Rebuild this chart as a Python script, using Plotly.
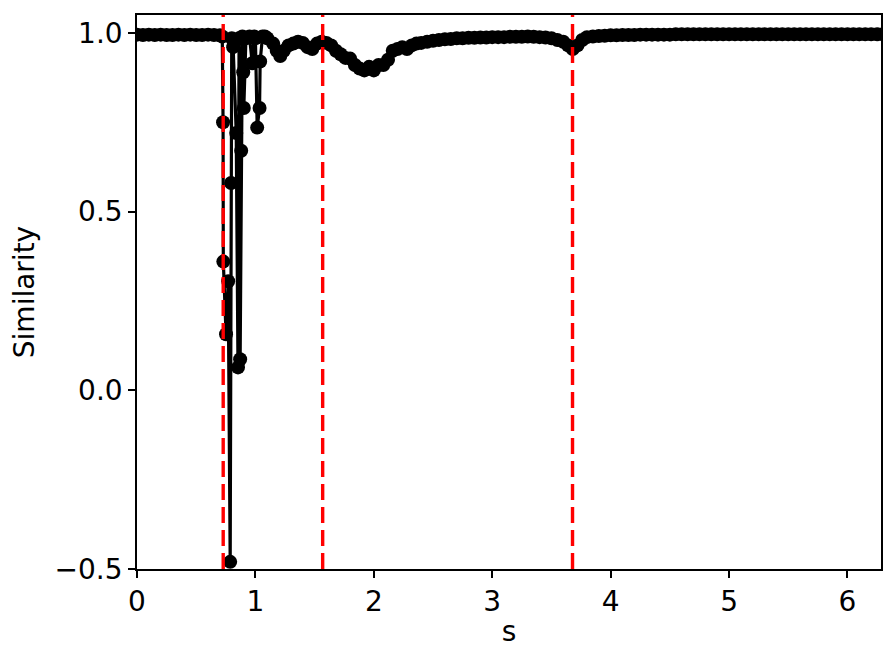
import plotly.graph_objects as go

# ---- data ----
s_left = [0.00, 0.05, 0.10, 0.15, 0.20, 0.25, 0.30, 0.35, 0.40, 0.45, 0.50, 0.55, 0.60, 0.65, 0.70]
y_left = [0.995, 0.994, 0.995, 0.994, 0.995, 0.994, 0.994, 0.995, 0.994, 0.995, 0.994, 0.994, 0.995, 0.994, 0.993]

s_chaos = [0.720, 0.727, 0.729, 0.752, 0.770, 0.787, 0.795, 0.800, 0.812, 0.838, 0.853, 0.862, 0.871,
           0.880, 0.890, 0.897, 0.902, 0.920, 0.950, 0.973, 0.990, 1.000, 1.015, 1.035, 1.040, 1.060, 1.080]
y_chaos = [0.990, 0.750, 0.360, 0.157, 0.305, -0.480, 0.580, 0.985, 0.960, 0.720, 0.064, 0.985, 0.087,
           0.670, 0.990, 0.890, 0.790, 0.985, 0.990, 0.915, 0.990, 0.985, 0.735, 0.790, 0.920, 0.990, 0.990]

s_mid = [1.10, 1.15, 1.18, 1.21, 1.24, 1.28, 1.32, 1.36, 1.40, 1.44, 1.48, 1.52, 1.56, 1.60, 1.64, 1.68,
         1.72, 1.76, 1.80, 1.84, 1.88, 1.92, 1.96, 2.00, 2.04, 2.08, 2.12, 2.16, 2.20, 2.24, 2.28, 2.32,
         2.36, 2.40, 2.45, 2.50, 2.55, 2.60, 2.65, 2.70, 2.75, 2.80, 2.85, 2.90, 2.95, 3.00, 3.05, 3.10,
         3.15, 3.20, 3.25, 3.30, 3.35, 3.40, 3.45, 3.50, 3.55, 3.60, 3.64, 3.68, 3.72, 3.76, 3.80]
y_mid = [0.985, 0.970, 0.950, 0.935, 0.950, 0.965, 0.970, 0.975, 0.972, 0.960, 0.955, 0.970, 0.975, 0.972, 0.965, 0.950,
         0.940, 0.930, 0.928, 0.910, 0.900, 0.895, 0.905, 0.895, 0.910, 0.910, 0.925, 0.950, 0.955, 0.960, 0.955, 0.965,
         0.970, 0.972, 0.975, 0.978, 0.980, 0.982, 0.983, 0.985, 0.985, 0.986, 0.986, 0.987, 0.987, 0.988, 0.988, 0.988,
         0.989, 0.989, 0.989, 0.990, 0.989, 0.988, 0.987, 0.985, 0.980, 0.975, 0.965, 0.955, 0.965, 0.980, 0.988]

s_right = [3.85, 3.90, 3.95, 4.00, 4.05, 4.10, 4.15, 4.20, 4.25, 4.30, 4.35, 4.40, 4.45, 4.50, 4.55, 4.60,
           4.65, 4.70, 4.75, 4.80, 4.85, 4.90, 4.95, 5.00, 5.05, 5.10, 5.15, 5.20, 5.25, 5.30, 5.35, 5.40,
           5.45, 5.50, 5.55, 5.60, 5.65, 5.70, 5.75, 5.80, 5.85, 5.90, 5.95, 6.00, 6.05, 6.10, 6.15, 6.20,
           6.25, 6.30]
y_right = [0.990, 0.991, 0.992, 0.993, 0.993, 0.994, 0.994, 0.994, 0.995, 0.995, 0.995, 0.995, 0.995, 0.995, 0.996, 0.996,
           0.996, 0.996, 0.996, 0.996, 0.996, 0.996, 0.996, 0.996, 0.996, 0.996, 0.996, 0.996, 0.996, 0.996, 0.996, 0.996,
           0.996, 0.996, 0.996, 0.996, 0.996, 0.996, 0.996, 0.996, 0.996, 0.996, 0.996, 0.996, 0.996, 0.996, 0.996, 0.996,
           0.996, 0.996]

s_values = s_left + s_chaos + s_mid + s_right
similarity = y_left + y_chaos + y_mid + y_right

vlines = [0.728, 1.568, 3.678]

x_ticks = [0, 1, 2, 3, 4, 5, 6]
x_ticktext = ["0", "1", "2", "3", "4", "5", "6"]
y_ticks = [-0.5, 0.0, 0.5, 1.0]
y_ticktext = ["\u22120.5", "0.0", "0.5", "1.0"]

FONT = "DejaVu Sans"

fig = go.Figure()
fig.add_trace(go.Scatter(
    x=s_values, y=similarity, mode="lines+markers",
    line=dict(color="black", width=3.2),
    marker=dict(color="black", size=14, line=dict(width=0)),
    showlegend=False, cliponaxis=True,
))

for xv in vlines:
    fig.add_shape(type="line", xref="x", yref="paper", x0=xv, x1=xv, y0=0, y1=1,
                  line=dict(color="red", width=3.4, dash="16px,7px"), layer="above")

axis_common = dict(
    showline=True, mirror=True, linecolor="black", linewidth=1.6,
    ticks="outside", ticklen=7, tickwidth=1.6, tickcolor="black",
    showgrid=False, zeroline=False,
    tickfont=dict(family=FONT, size=28, color="black"),
    title_font=dict(family=FONT, size=28, color="black"),
)

fig.update_xaxes(range=[0, 6.2832], tickvals=x_ticks, ticktext=x_ticktext,
                 title_text="s", title_standoff=4, **axis_common)
fig.update_yaxes(range=[-0.5, 1.05], tickvals=y_ticks, ticktext=y_ticktext,
                 title_text="Similarity", title_standoff=20, **axis_common)

# page body has an 8px margin; figure sized so plot area lands at x 137..881, y 15..569
fig.update_layout(
    width=880, height=648,
    margin=dict(l=129, r=7, t=7, b=87, autoexpand=False),
    plot_bgcolor="white", paper_bgcolor="white",
    font=dict(family=FONT, color="black"),
)

fig.write_html("out.html")
